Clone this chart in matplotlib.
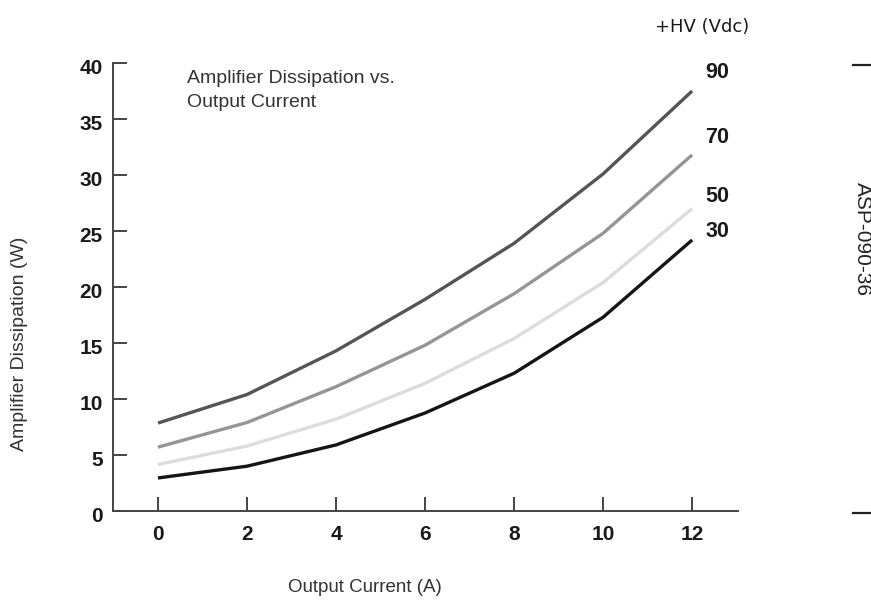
import matplotlib
matplotlib.use("Agg")
import matplotlib.pyplot as plt
from matplotlib.transforms import ScaledTranslation

current = [0, 2, 4, 6, 8, 10, 12]
hv_labels = ["90", "70", "50", "30"]
diss_90 = [7.85, 10.4, 14.3, 18.9, 23.9, 30.1, 37.5]
diss_70 = [5.7, 7.9, 11.1, 14.8, 19.4, 24.8, 31.8]
diss_50 = [4.15, 5.8, 8.2, 11.4, 15.4, 20.4, 27.0]
diss_30 = [2.95, 4.0, 5.9, 8.75, 12.3, 17.3, 24.2]
series = [diss_90, diss_70, diss_50, diss_30]
colors = ["#555555", "#959595", "#dcdcdc", "#151515"]
label_y = [38.66, 32.86, 27.59, 24.46]
xticks = [0, 2, 4, 6, 8, 10, 12]
yticks = [0, 5, 10, 15, 20, 25, 30, 35, 40]

fig = plt.figure(figsize=(8.71, 6.01), dpi=100)
ax = fig.add_axes([113/871, 1-511/601, (738-113)/871, (511-63)/601])

for vals, c in zip(series, colors):
    ax.plot(current, vals, color=c, lw=2.4, solid_capstyle='butt')

ax.set_xlim(-1.01, 13.03)
ax.set_ylim(0, 40)
ax.set_xticks(xticks)
ax.set_yticks(yticks)
for s in ['top', 'right']:
    ax.spines[s].set_visible(False)
for s in ['left', 'bottom']:
    ax.spines[s].set_color('#444444')
    ax.spines[s].set_linewidth(1.4)
ax.tick_params(direction='in', length=10, width=1.4, color='#444444')
ax.tick_params(axis='y', pad=7.5)
ax.tick_params(axis='x', pad=10)
for lab in ax.get_xticklabels() + ax.get_yticklabels():
    lab.set_fontfamily('Liberation Sans')
    lab.set_fontweight('bold')
    lab.set_fontsize(15)
    lab.set_color('#1a1a1a')
shift = ScaledTranslation(0, -4/100, fig.dpi_scale_trans)
for lab in ax.get_yticklabels():
    lab.set_transform(lab.get_transform() + shift)

for lbl, yv in zip(hv_labels, label_y):
    ax.text(12.29, yv, lbl, fontfamily='Liberation Sans', fontweight='bold',
            fontsize=15.5, color='#1a1a1a', va='baseline', ha='left')

ax.text(0.65, (511-83)/11.2, "Amplifier Dissipation vs.", fontfamily='Liberation Sans',
        fontsize=14, color='#333333', va='baseline', ha='left')
ax.text(0.65, (511-107)/11.2, "Output Current", fontfamily='Liberation Sans',
        fontsize=14, color='#333333', va='baseline', ha='left')

fig.text(20/871, 1-344/601, "Amplifier Dissipation (W)", rotation=90, fontfamily='Liberation Sans',
         fontsize=14, color='#333333', va='center', ha='center')
fig.text(365/871, 1-592/601, "Output Current (A)", fontfamily='Liberation Sans',
         fontsize=13.5, color='#333333', va='baseline', ha='center')
fig.text(702/871, 1-32/601, "+HV (Vdc)", fontfamily='DejaVu Sans',
         fontsize=13, color='#1a1a1a', va='baseline', ha='center')
fig.text(862/871, 1-239/601, "ASP-090-36", rotation=-90, fontfamily='Liberation Sans',
         fontsize=15, color='#222222', va='center', ha='center')
fig.add_artist(plt.Line2D([853/871, 870/871], [1-65/601, 1-65/601], color='#222222', lw=1.6))
fig.add_artist(plt.Line2D([853/871, 870/871], [1-513/601, 1-513/601], color='#222222', lw=1.6))

fig.savefig("out.png", dpi=100)
